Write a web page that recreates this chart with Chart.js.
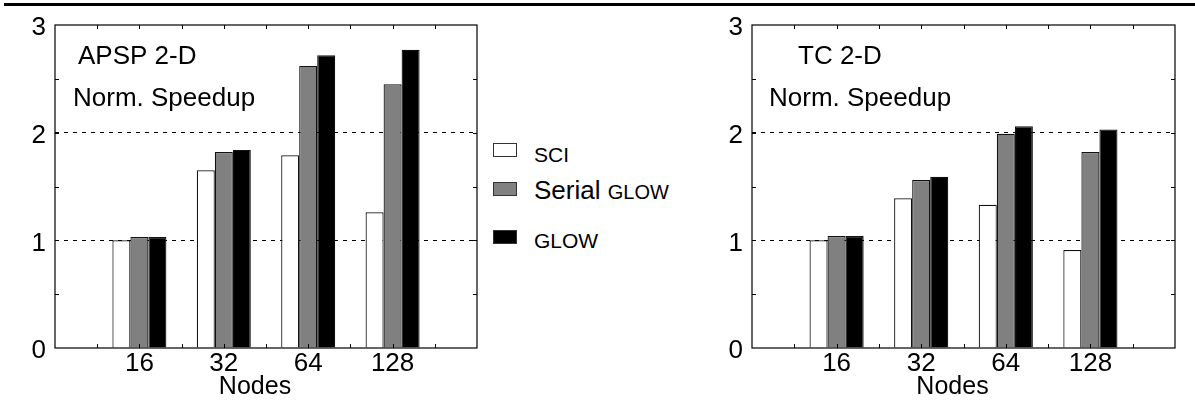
<!DOCTYPE html>
<html>
<head>
<meta charset="utf-8">
<script src="https://cdn.jsdelivr.net/npm/chart.js@4.4.1/dist/chart.umd.min.js"></script>
<style>
  html, body { margin: 0; padding: 0; background: #fff; }
  body { width: 1195px; height: 406px; position: relative; overflow: hidden; font-family: "Liberation Sans", Arial, sans-serif; }
  .rule { position: absolute; left: 4px; top: 3px; width: 1191px; height: 3px; background: #000; }
  .chart-box { position: absolute; top: 0; height: 406px; }
  #box-apsp { left: 0; width: 490px; }
  #box-tc { left: 700px; width: 495px; }
  .swatch { position: absolute; left: 493px; width: 22px; height: 12px; border: 1px solid #333; }
  .legend-text { position: absolute; left: 534px; line-height: 1; color: #000; white-space: nowrap; }
</style>
</head>
<body>
<div class="rule"></div>
<div class="chart-box" id="box-apsp"><canvas id="chart-apsp"></canvas></div>
<div class="chart-box" id="box-tc"><canvas id="chart-tc"></canvas></div>

<!-- legend sits between the two panels -->
<div class="swatch" style="top:143px; background:#fff;"></div>
<div class="legend-text" style="top:144px; font-size:21px;">SCI</div>
<div class="swatch" style="top:182px; background:#808080;"></div>
<div class="legend-text" style="top:177px; font-size:26px;">Serial <span style="font-size:20px;">GLOW</span></div>
<div class="swatch" style="top:230px; background:#000;"></div>
<div class="legend-text" style="top:230px; font-size:21px;">GLOW</div>

<script>
// --- data ---
const nodeLabels = ["16", "32", "64", "128"];
const seriesNames = ["SCI", "Serial GLOW", "GLOW"];
const xTitle = "Nodes";

const apspSci    = [1.00, 1.65, 1.79, 1.26];
const apspSerial = [1.03, 1.82, 2.62, 2.45];
const apspGlow   = [1.03, 1.84, 2.72, 2.77];

const tcSci    = [1.00, 1.39, 1.33, 0.91];
const tcSerial = [1.04, 1.56, 1.99, 1.82];
const tcGlow   = [1.04, 1.59, 2.06, 2.03];

const yMin = 0, yMax = 3;

const FONT = "'Liberation Sans', Arial, sans-serif";
const BAR_FILLS = ["#ffffff", "#808080", "#000000"];

// empty slot at each end so the groups sit at 1..4 on a 0..5 axis
const axisLabels = ["", ...nodeLabels, ""];
const pad = arr => [null, ...arr, null];

// frame, inward half-step ticks, axis title and the panel notes
const framePlugin = {
    id: "frame",
    afterDraw(chart, args, opts) {
        const { ctx, chartArea: a, scales } = chart;
        const x = scales.x, y = scales.y;
        ctx.save();
        ctx.strokeStyle = "#000";
        ctx.lineWidth = 1.2;
        ctx.strokeRect(a.left, a.top, a.right - a.left, a.bottom - a.top);

        ctx.lineWidth = 1;
        ctx.beginPath();
        for (let v = 0.5; v < axisLabels.length - 1; v += 0.5) {
            const px = Math.round(x.getPixelForValue(v)) + 0.5;
            ctx.moveTo(px, a.top); ctx.lineTo(px, a.top + 4);
            ctx.moveTo(px, a.bottom); ctx.lineTo(px, a.bottom - 4);
        }
        for (let v = yMin + 0.5; v < yMax; v += 0.5) {
            const py = Math.round(y.getPixelForValue(v)) + 0.5;
            ctx.moveTo(a.left, py); ctx.lineTo(a.left + 4, py);
            ctx.moveTo(a.right, py); ctx.lineTo(a.right - 4, py);
        }
        ctx.stroke();

        ctx.fillStyle = "#000";
        ctx.textBaseline = "alphabetic";
        ctx.font = `26px ${FONT}`;
        (opts.notes || []).forEach(n => ctx.fillText(n.text, a.left + n.dx, n.y));

        // axis title sits a little left of the plot centre in the original
        ctx.font = `25px ${FONT}`;
        ctx.textAlign = "center";
        ctx.fillText(xTitle, (a.left + a.right) / 2 - 11, 394);
        ctx.restore();
    },
};

function makePanel(canvasId, series, notes, yAxisWidth, rightPad) {
    return new Chart(document.getElementById(canvasId), {
        type: "bar",
        data: {
            labels: axisLabels,
            datasets: series.map((vals, i) => ({
                label: seriesNames[i],
                data: pad(vals),
                backgroundColor: BAR_FILLS[i],
                borderColor: "#111",
                borderWidth: 1.2,
                categoryPercentage: 0.64,
                barPercentage: 1.0,
            })),
        },
        options: {
            responsive: true,
            maintainAspectRatio: false,
            animation: false,
            layout: { padding: { top: 25, right: rightPad, left: 0, bottom: 0 } },
            plugins: {
                legend: { display: false },
                tooltip: { enabled: false },
                frame: { notes },
            },
            scales: {
                x: {
                    type: "category",
                    offset: false,
                    grid: { display: false, drawTicks: false },
                    border: { display: false },
                    ticks: { color: "#000", font: { family: FONT, size: 26 }, padding: 0, autoSkip: false, maxRotation: 0 },
                    afterFit: s => { s.height = 58; },
                },
                y: {
                    min: yMin,
                    max: yMax,
                    grid: {
                        drawTicks: false,
                        lineWidth: 1,
                        color: c => (c.tick && c.tick.value > yMin && c.tick.value < yMax) ? "#000" : "rgba(0,0,0,0)",
                    },
                    border: { display: false, dash: [4, 5] },
                    ticks: { stepSize: 1, color: "#000", font: { family: FONT, size: 26 }, padding: 9, labelOffset: 3 },
                    afterFit: s => { s.width = yAxisWidth; },
                },
            },
        },
        plugins: [framePlugin],
    });
}

makePanel("chart-apsp", [apspSci, apspSerial, apspGlow],
    [{ text: "APSP 2-D", dx: 23, y: 64 }, { text: "Norm. Speedup", dx: 18, y: 106 }], 55, 13);
makePanel("chart-tc", [tcSci, tcSerial, tcGlow],
    [{ text: "TC 2-D", dx: 46, y: 64 }, { text: "Norm. Speedup", dx: 17, y: 106 }], 52, 20);
</script>
</body>
</html>
